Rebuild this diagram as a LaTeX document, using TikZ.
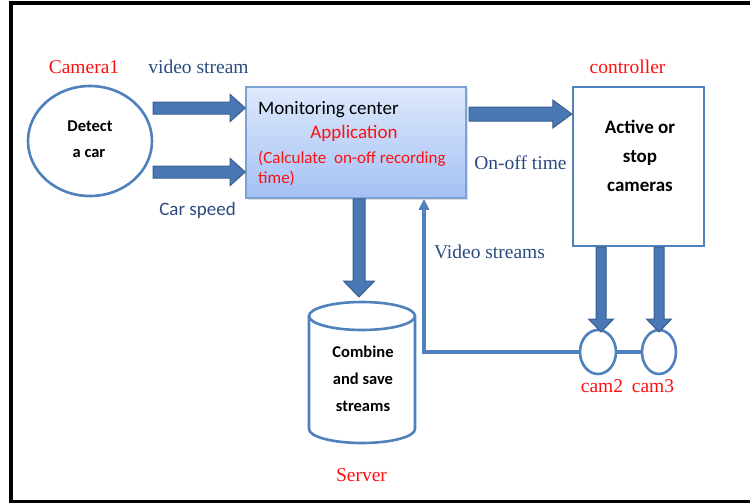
\documentclass[tikz,border=0pt]{standalone}
\usepackage{fontspec}
\setmainfont{Liberation Serif}
\newfontfamily\carl{Carlito}
\usetikzlibrary{calc,shadows,arrows.meta,shapes.geometric}
\definecolor{lineblue}{HTML}{4F81BD}
\definecolor{arrfill}{HTML}{4A78B4}
\definecolor{arrdraw}{HTML}{3A5F8F}
\definecolor{txtblue}{HTML}{2B4B7E}
\definecolor{redtxt}{HTML}{FF1010}
\definecolor{boxtop}{HTML}{DEE9FC}
\definecolor{boxbot}{HTML}{A4C1F4}
\definecolor{boxedge}{HTML}{7DA2D8}
\tikzset{
  blk/.style={fill=arrfill, draw=arrdraw, line width=1pt, line join=miter},
  lbl/.style={anchor=base, inner sep=0pt, font=\fontsize{19.5}{22}\selectfont},
  sanslbl/.style={anchor=base, inner sep=0pt, font=\carl\fontsize{19}{22}\selectfont},
  boldlbl/.style={anchor=base, inner sep=0pt, font=\carl\bfseries\fontsize{16.5}{20}\selectfont},
  camshape/.style={ellipse, draw=lineblue, line width=2.6pt, inner sep=0pt},
  thinline/.style={draw=lineblue, line width=3.2pt},
}
\newcommand\blkH[5]{\draw[blk] let \p1=(#1), \p2=(#2) in
  (\x1,\y1+#3pt) -- (\x2-#5pt,\y1+#3pt) -- (\x2-#5pt,\y1+#4pt) -- (\x2,\y1) --
  (\x2-#5pt,\y1-#4pt) -- (\x2-#5pt,\y1-#3pt) -- (\x1,\y1-#3pt) -- cycle;}
\newcommand\blkV[5]{\draw[blk] let \p1=(#1), \p2=(#2) in
  (\x1-#3pt,\y1) -- (\x1-#3pt,\y2+#5pt) -- (\x1-#4pt,\y2+#5pt) -- (\x1,\y2) --
  (\x1+#4pt,\y2+#5pt) -- (\x1+#3pt,\y2+#5pt) -- (\x1+#3pt,\y1) -- cycle;}
\begin{document}
\begin{tikzpicture}[x={(1pt,0)}, y={(0,-1pt)}]
\useasboundingbox (0,0) rectangle (750,503);
\fill[white] (0,0) rectangle (750,503);
% outer frame
\draw[line width=4pt, line join=miter] (760,3) -- (11,3) -- (11,501.5) -- (760,501.5);

% Camera1
\node[camshape, minimum width=124pt, minimum height=110pt] (cam1) at (90,141) {};
\node[boldlbl] (det1) at (90,131) {Detect};
\node[boldlbl] (det2) at (89,157) {a car};
\node[lbl, text=redtxt] (lcam1) at (84,74) {Camera1};
\node[lbl, text=txtblue] (lvid) at (198.5,74) {video stream};
\node[sanslbl, text=txtblue] (lspeed) at (197.5,215) {Car speed};

% Monitoring center
\node[rectangle, draw=boxedge, line width=1.6pt, top color=boxtop, bottom color=boxbot,
      minimum width=220pt, minimum height=111pt, inner sep=0pt,
      drop shadow={opacity=0.25, shadow xshift=2pt, shadow yshift=-2pt}] (mon) at (356,142.5) {};
\node[sanslbl, anchor=base west] (m1) at (258,114) {Monitoring center};
\node[sanslbl, text=redtxt] (m2) at (354,139) {Application};
\node[sanslbl, anchor=base west, text=redtxt, font=\carl\fontsize{17}{20}\selectfont] (m3) at (258,163) {(Calculate\ \ on-off recording};
\node[sanslbl, anchor=base west, text=redtxt, font=\carl\fontsize{17}{20}\selectfont] (m4) at (258,183) {time)};

% controller
\node[rectangle, draw=lineblue, line width=2.4pt, fill=white, minimum width=131pt, minimum height=159pt, inner sep=0pt] (ctrl) at (638.5,166.5) {};
\node[lbl, text=redtxt] (lctrl) at (627.5,74) {controller};
\node[boldlbl, font=\carl\bfseries\fontsize{19}{22}\selectfont] (c1) at (640,133) {Active or};
\node[boldlbl, font=\carl\bfseries\fontsize{19}{22}\selectfont] (c2) at (640,162) {stop};
\node[boldlbl, font=\carl\bfseries\fontsize{19}{22}\selectfont] (c3) at (640,191) {cameras};
\node[lbl, text=txtblue] (lonoff) at (520.5,169) {On-off time};

% Server cylinder
\draw[draw=lineblue, line width=2.6pt, fill=white]
  (309,316) -- (309,429) arc[start angle=180, end angle=0, x radius=53, y radius=14] -- (415,316)
  arc[start angle=0, end angle=-180, x radius=53, y radius=14] -- cycle;
\draw[draw=lineblue, line width=2.6pt] (309,316) arc[start angle=180, end angle=0, x radius=53, y radius=14];
\coordinate (srvtop) at (359,297);
\node[boldlbl] (s1) at (363,357) {Combine};
\node[boldlbl] (s2) at (363,384) {and save};
\node[boldlbl] (s3) at (363,411) {streams};
\node[lbl, text=redtxt] (lsrv) at (361.5,481) {Server};

% cams
\node[camshape, minimum width=36pt, minimum height=44pt] (cam2) at (598,352) {};
\node[camshape, minimum width=34pt, minimum height=44pt] (cam3) at (659,352) {};
\node[lbl, text=redtxt] (lcam2) at (602,392) {cam2};
\node[lbl, text=redtxt] (lcam3) at (653,392) {cam3};
\node[lbl, text=txtblue] (lvs) at (489.5,258) {Video streams};

% thin connectors
\coordinate (corner) at (424,352);
\draw[thinline] (cam2) -- (cam3);
\draw[thinline, -{Triangle[width=10pt,length=11pt]}, line join=miter] (cam2.west) -- (corner) -- (mon.south -| corner);

% block arrows
\coordinate (a1) at (153,108);
\coordinate (a2) at (153,172);
\coordinate (a3) at (469,114);
\blkH{a1}{mon.west |- a1}{6}{13.5}{15}
\blkH{a2}{mon.west |- a2}{6}{13.5}{15}
\blkH{a3}{ctrl.west |- a3}{7}{14}{19}
\blkV{mon.south -| srvtop}{srvtop}{6}{15.5}{16}
\coordinate (t2) at (601,332);
\coordinate (t3) at (659,332);
\blkV{ctrl.south -| t2}{t2}{5}{12.5}{13}
\blkV{ctrl.south -| t3}{t3}{5}{12.5}{13}
\end{tikzpicture}
\end{document}
